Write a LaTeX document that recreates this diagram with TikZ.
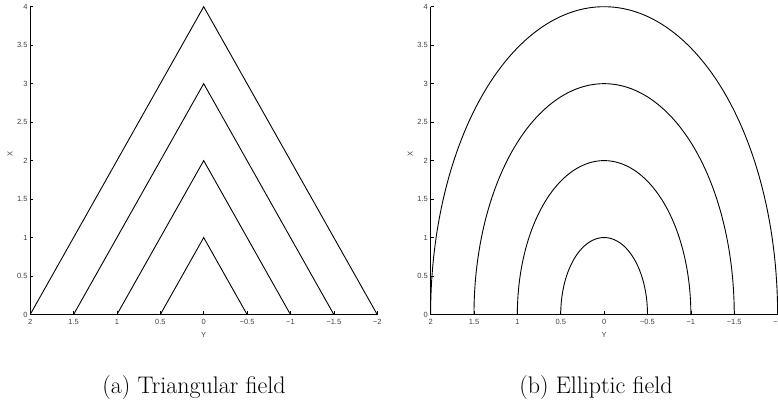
\documentclass[tikz,border=0pt]{standalone}
\usepackage{fontspec}
\newfontfamily\axfont{Liberation Sans}
\begin{document}
\begin{tikzpicture}[x=1pt,y=-1pt,
  curve/.style={line width=0.9pt,black},
  axisline/.style={line width=0.9pt,black},
  tickmark/.style={line width=0.6pt,black},
  ticklab/.style={font=\axfont\fontsize{7.5}{8}\selectfont,text=black!75,inner sep=0pt},
  axlab/.style={font=\axfont\fontsize{7.5}{8}\selectfont,text=black!75,inner sep=0pt},
  caption/.style={font=\fontsize{24}{28}\selectfont,inner sep=0pt,anchor=base}]
\useasboundingbox (0,0) rectangle (778,404);
\clip (0,0) rectangle (778,404);
% ---------- axes, ticks, labels ----------
\foreach \ox/\kind in {203.7/tri,604.1/ell}{
\begin{scope}[xshift=\ox pt,yshift=-314.5pt,x={(-86.75pt,0pt)},y={(0pt,76.95pt)}]
  \draw[axisline] (2,4) -- (2,0) -- (-2,0);
  \foreach \v in {0,0.5,...,4}{
    \draw[tickmark] (2,\v) -- ++(-0.035,0);
  }
  \foreach \v/\t in {0/0,0.5/0.5,1/1,1.5/1.5,2/2,2.5/2.5,3/3,3.5/3.5,4/4}{
    \node[ticklab,anchor=east] at ([xshift=-2.5pt]2,\v) {\t};
  }
  \foreach \v in {2,1.5,...,-2}{
    \draw[tickmark] (\v,0) -- ++(0,0.04);
  }
  \foreach \v/\t in {2/2,1.5/1.5,1/1,0.5/0.5,0/0,-0.5/−0.5,-1/−1,-1.5/−1.5,-2/−2}{
    \node[ticklab,anchor=north] at ([yshift=-5pt]\v,0) {\t};
  }
  \node[axlab] (ylab\kind) at ([yshift=-20pt]0,0) {Y};
  \node[axlab,rotate=90] (xlab\kind) at ([xshift=-193.7pt]0,2.08) {X};
\end{scope}
}
% triangles
\begin{scope}[xshift=203.7pt,yshift=-314.5pt,x={(-86.75pt,0pt)},y={(0pt,76.95pt)}]
  \foreach \k in {1,2,3,4}{
    \draw[curve,line join=miter] (\k/2,0) -- (0,\k) -- (-\k/2,0);
  }
\end{scope}
% ellipses
\begin{scope}[xshift=604.1pt,yshift=-314.5pt,x={(-86.75pt,0pt)},y={(0pt,76.95pt)}]
  \foreach \k in {1,2,3,4}{
    \draw[curve] plot[domain=0:180,samples=121,smooth] ({\k/2*cos(\x)},{\k*sin(\x)});
  }
\end{scope}
% captions
\node[caption] (capa) at (194,393) {(a) Triangular field};
\node[caption] (capb) at (596,393) {(b) Elliptic field};
\end{tikzpicture}
\end{document}
